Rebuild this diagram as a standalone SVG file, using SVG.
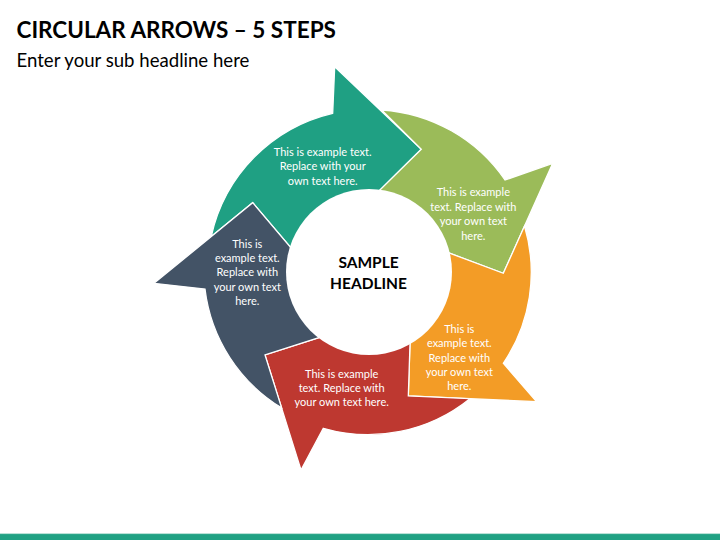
<svg xmlns="http://www.w3.org/2000/svg" width="720" height="540" viewBox="0 0 720 540">
<style>
.seg{stroke:#ffffff;stroke-width:1.3;stroke-linejoin:miter}
.t{font-family:Lato,"Liberation Sans",sans-serif;font-size:11px;fill:#ffffff;text-anchor:middle}
.h{font-family:Lato,"Liberation Sans",sans-serif;font-size:15.5px;font-weight:bold;fill:#000000;text-anchor:middle}
</style>
<rect x="0" y="0" width="720" height="540" fill="#ffffff"/>
<text x="16.5" y="37.5" font-family="Lato,'Liberation Sans',sans-serif" font-size="22.5" font-weight="bold" fill="#000000">CIRCULAR ARROWS – 5 STEPS</text>
<text x="16.5" y="66.5" font-family="Lato,'Liberation Sans',sans-serif" font-size="18.6" fill="#000000">Enter your sub headline here</text>
<g id="connectors"></g>
<g id="step1">
<path class="seg" fill="#1FA083" d="M 211.2 236.6 A 162 162 0 0 1 332.7 113.3 L 334.7 66.7 L 421.3 149.3 L 355 214.6 L 369 272 L 309.4 269.6 L 252.7 202.7 Z"/>
</g>
<g id="step2">
<path class="seg" fill="#9BBB59" d="M 381.7 110 A 162 162 0 0 1 505 180 L 552.7 163.3 L 503.3 273.3 L 421.9 242.8 L 369 272 L 355 214.6 L 421.3 149.3 Z"/>
</g>
<g id="step3">
<path class="seg" fill="#F39C26" d="M 524.5 226 A 162 162 0 0 1 503.3 363.3 L 536.7 401.7 L 408.3 396 L 411 313.3 L 369 272 L 421.9 242.8 L 503.3 273.3 Z"/>
</g>
<g id="step4">
<path class="seg" fill="#BE3830" d="M 469.9 398.7 A 162 162 0 0 1 323.3 428.3 L 301 470 L 265 355 L 345.3 329.1 L 369 272 L 411 313.3 L 408.3 396 Z"/>
</g>
<g id="step5">
<path class="seg" fill="#435366" d="M 281.6 407.9 A 162 162 0 0 1 205 289 L 154 283.3 L 252.7 202.7 L 309.4 269.6 L 369 272 L 345.3 329.1 L 265 355 Z"/>
</g>
<g id="center">
<circle cx="369" cy="272" r="83" fill="#ffffff"/>
<text class="h" x="368.5" y="268.3">SAMPLE</text>
<text class="h" x="368.5" y="289.3">HEADLINE</text>
</g>
<g id="labels">
<text class="t"><tspan x="322.7" y="156">This is example text.</tspan><tspan x="322.7" y="170.4">Replace with your</tspan><tspan x="322.7" y="184.8">own text here.</tspan></text>
<text class="t"><tspan x="473.3" y="196.3">This is example</tspan><tspan x="473.3" y="210.8">text. Replace with</tspan><tspan x="473.3" y="225.2">your own text</tspan><tspan x="473.3" y="239.6">here.</tspan></text>
<text class="t"><tspan x="459.3" y="333">This is</tspan><tspan x="459.3" y="347.3">example text.</tspan><tspan x="459.3" y="361.7">Replace with</tspan><tspan x="459.3" y="376">your own text</tspan><tspan x="459.3" y="390.4">here.</tspan></text>
<text class="t"><tspan x="341.7" y="377.7">This is example</tspan><tspan x="341.7" y="392">text. Replace with</tspan><tspan x="341.7" y="406.4">your own text here.</tspan></text>
<text class="t"><tspan x="247.3" y="247.6">This is</tspan><tspan x="247.3" y="262">example text.</tspan><tspan x="247.3" y="276.4">Replace with</tspan><tspan x="247.3" y="290.8">your own text</tspan><tspan x="247.3" y="305.2">here.</tspan></text>
</g>
<rect x="0" y="534" width="720" height="6" fill="#21A183"/>
<rect x="0" y="533.3" width="720" height="0.8" fill="#9ED6C8"/>
</svg>
